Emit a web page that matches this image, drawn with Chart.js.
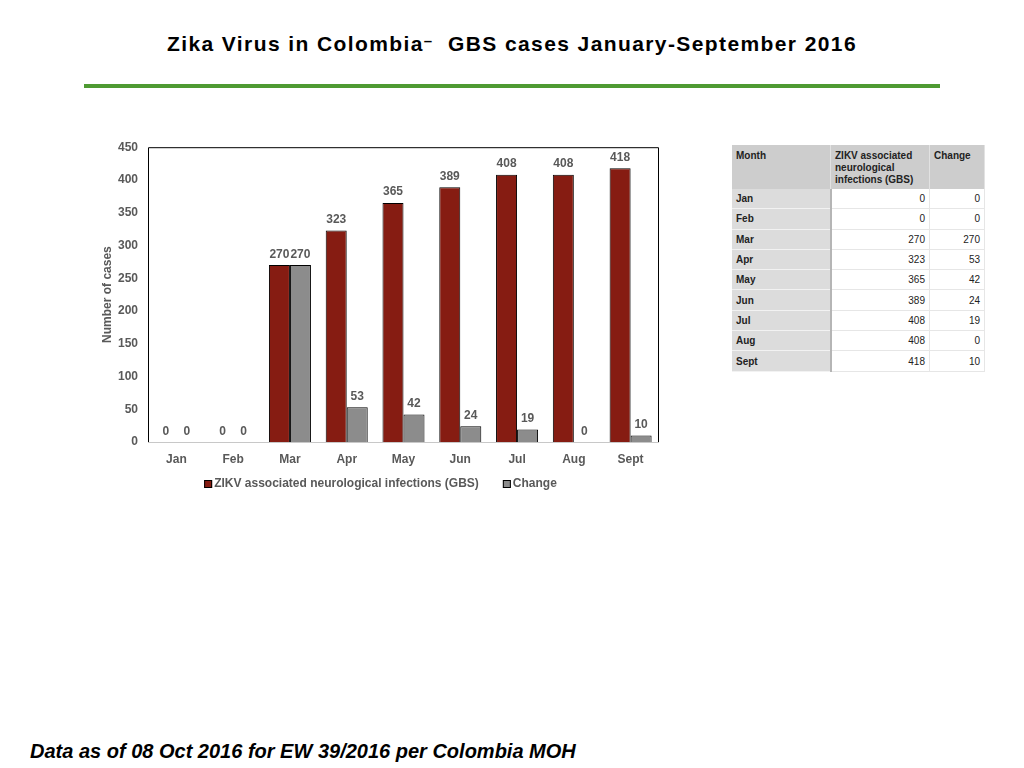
<!DOCTYPE html>
<html>
<head>
<meta charset="utf-8">
<script src="https://cdn.jsdelivr.net/npm/chart.js@4.4.0/dist/chart.umd.min.js"></script>
<style>
  html, body { margin: 0; padding: 0; background: #fff; }
  body { width: 1024px; height: 768px; position: relative; overflow: hidden; font-family: "Liberation Sans", Arial, sans-serif; }
  #title { position: absolute; left: 0; width: 1024px; top: 32px; text-align: center; font-weight: bold; font-size: 21px; letter-spacing: 1.4px; color: #000; }
  #title .dash { position: relative; top: -5px; font-size: 15px; }
  #rule { position: absolute; left: 84px; top: 84px; width: 856px; height: 4px; background: #4e9a32; }
  #chartBox { position: absolute; left: 90px; top: 130px; width: 600px; height: 370px; }
  #footer { position: absolute; left: 30px; top: 740px; font-weight: bold; font-style: italic; font-size: 20px; color: #000; }
  #dataTable { position: absolute; left: 732px; top: 145px; width: 253px; border-collapse: collapse; font-size: 10px; color: #222; }
  #dataTable th { background: #cdcdcd; font-weight: bold; text-align: left; vertical-align: top; padding: 5px 4px 0 4px; height: 39px; border-right: 1px solid #e2e2e2; line-height: 12px; }
  #dataTable td { height: 19.3px; padding: 0 4px; border-bottom: 1px solid #e6e6e6; border-right: 1px solid #e6e6e6; text-align: right; }
  #dataTable td.m { background: #dcdcdc; font-weight: bold; text-align: left; border-right: 2px solid #b5b5b5; border-bottom: 1px solid #f2f2f2; }
</style>
</head>
<body>
<div id="title">Zika Virus in Colombia<span class="dash">–</span>&nbsp; GBS cases January-September 2016</div>
<div id="rule"></div>
<div id="chartBox"><canvas id="gbsChart"></canvas></div>
<table id="dataTable">
  <thead><tr><th style="width:90px">Month</th><th style="width:90px">ZIKV associated neurological infections (GBS)</th><th>Change</th></tr></thead>
  <tbody id="tableBody"></tbody>
</table>
<div id="footer">Data as of 08 Oct 2016 for EW 39/2016 per Colombia MOH</div>

<script>
const months = ['Jan', 'Feb', 'Mar', 'Apr', 'May', 'Jun', 'Jul', 'Aug', 'Sept'];
const gbsCases = [0, 0, 270, 323, 365, 389, 408, 408, 418];
const changeCases = [0, 0, 270, 53, 42, 24, 19, 0, 10];
const yTicks = [0, 50, 100, 150, 200, 250, 300, 350, 400, 450];

const labelGray = '#595959';
const fontFamily = '"Liberation Sans", Arial, sans-serif';

// fill the side table from the same arrays
const tbody = document.getElementById('tableBody');
tbody.innerHTML = months.map((m, i) => `
    <tr><td class="m">${m}</td><td>${gbsCases[i]}</td><td>${changeCases[i]}</td></tr>
`).join('');

// value labels on top of each bar
const barValues = {
    id: 'barValues',
    afterDatasetsDraw(chart) {
        const ctx = chart.ctx;
        ctx.save();
        ctx.font = 'bold 12px ' + fontFamily;
        ctx.fillStyle = labelGray;
        ctx.textAlign = 'center';
        ctx.textBaseline = 'alphabetic';
        chart.data.datasets.forEach((ds, di) => {
            chart.getDatasetMeta(di).data.forEach((bar, i) => {
                ctx.fillText(String(ds.data[i]), bar.x, bar.y - 7.5);
            });
        });
        ctx.restore();
    }
};

// black frame on top/left/right, gray baseline
const plotFrame = {
    id: 'plotFrame',
    afterDraw(chart) {
        const a = chart.chartArea;
        const ctx = chart.ctx;
        ctx.save();
        ctx.lineWidth = 1;
        ctx.strokeStyle = '#000';
        ctx.beginPath();
        ctx.moveTo(a.left + 0.5, a.bottom);
        ctx.lineTo(a.left + 0.5, a.top + 0.5);
        ctx.lineTo(a.right - 0.5, a.top + 0.5);
        ctx.lineTo(a.right - 0.5, a.bottom);
        ctx.stroke();
        ctx.strokeStyle = '#c8c8c8';
        ctx.beginPath();
        ctx.moveTo(a.left, a.bottom + 0.5);
        ctx.lineTo(a.right, a.bottom + 0.5);
        ctx.stroke();
        ctx.restore();
    }
};

// legend row under the axis, Excel style (small square + text, wide gap)
const bottomLegend = {
    id: 'bottomLegend',
    afterDraw(chart) {
        const ctx = chart.ctx;
        const a = chart.chartArea;
        ctx.save();
        ctx.font = 'bold 12px ' + fontFamily;
        ctx.textBaseline = 'middle';
        ctx.textAlign = 'left';
        const items = chart.data.datasets.map(ds => ({ text: ds.label, fill: ds.backgroundColor, w: ctx.measureText(ds.label).width }));
        const gap = 24;
        const total = items.reduce((s, it) => s + 10 + it.w, 0) + gap * (items.length - 1);
        let x = (a.left + a.right) / 2 - 23 - total / 2;
        const y = a.bottom + 42;
        items.forEach(it => {
            ctx.fillStyle = it.fill;
            ctx.fillRect(x, y - 4, 8, 8);
            ctx.strokeStyle = '#000';
            ctx.lineWidth = 1;
            ctx.strokeRect(x + 0.5, y - 3.5, 7, 7);
            ctx.fillStyle = labelGray;
            ctx.fillText(it.text, x + 10, y);
            x += 10 + it.w + gap;
        });
        ctx.restore();
    }
};

const ctx = document.getElementById('gbsChart').getContext('2d');
new Chart(ctx, {
    type: 'bar',
    data: {
        labels: months,
        datasets: [
            { label: 'ZIKV associated neurological infections (GBS)', data: gbsCases, backgroundColor: '#861c12', borderColor: '#000', borderWidth: 1 },
            { label: 'Change', data: changeCases, backgroundColor: '#8c8c8c', borderColor: '#000', borderWidth: 1 }
        ]
    },
    options: {
        responsive: true,
        maintainAspectRatio: false,
        animation: false,
        layout: { padding: { top: 17, right: 31, bottom: 28, left: 0 } },
        datasets: { bar: { categoryPercentage: 0.74, barPercentage: 1.0 } },
        plugins: {
            legend: { display: false },
            tooltip: { enabled: false }
        },
        scales: {
            x: {
                grid: { display: false, drawTicks: false },
                border: { display: false },
                ticks: { color: labelGray, padding: 10, font: { family: fontFamily, size: 12, weight: 'bold' } },
                afterFit: s => { s.height = 30; }
            },
            y: {
                min: 0, max: 450,
                grid: { display: false, drawTicks: false },
                border: { display: false },
                afterBuildTicks: s => { s.ticks = yTicks.map(v => ({ value: v })); },
                ticks: { color: labelGray, padding: 10, font: { family: fontFamily, size: 12, weight: 'bold' } },
                title: {
                    display: true, text: 'Number of cases', color: labelGray,
                    padding: { top: 10, bottom: 0 },
                    font: { family: fontFamily, size: 12, weight: 'bold' }
                },
                afterFit: s => { s.width = 58; }
            }
        }
    },
    plugins: [barValues, plotFrame, bottomLegend]
});
</script>
</body>
</html>
